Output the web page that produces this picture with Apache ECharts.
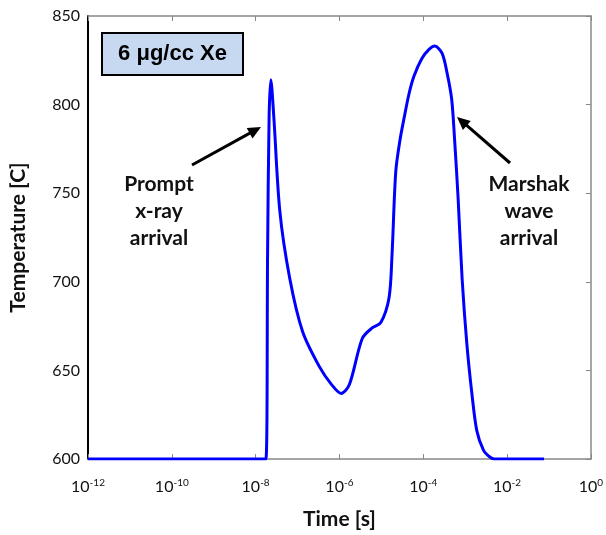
<!DOCTYPE html>
<html>
<head>
<meta charset="utf-8">
<script src="https://cdn.jsdelivr.net/npm/echarts@6/dist/echarts.min.js"></script>
<style>html,body{margin:0;padding:0;background:#fff}#c{width:606px;height:535px}</style>
</head>
<body>
<div id="c"></div>
<script>
// Data
const timeS = [1e-12, 1.76e-8, 1.93e-8, 2.10e-8, 2.31e-8, 2.72e-8, 3.78e-8, 6.52e-8, 1.32e-7, 3.35e-7, 6.5e-7, 1.10e-6, 1.73e-6, 3.51e-6, 6.05e-6, 9.75e-6, 1.53e-5, 1.80e-5, 2.21e-5, 2.79e-5, 3.47e-5, 4.57e-5, 6.0e-5, 9.29e-5, 1.36e-4, 1.89e-4, 2.81e-4, 3.70e-4, 4.78e-4, 5.62e-4, 6.81e-4, 8.47e-4, 1.10e-3, 1.45e-3, 1.90e-3, 2.74e-3, 3.95e-3, 5.0e-3, 7.66e-2];
const tempC = [600, 600, 715, 793, 814, 793, 740, 702, 672, 652, 642, 637, 642, 668, 674, 677, 691, 715, 762, 780, 792, 806, 816, 826, 831, 833, 829, 818, 803, 780, 747, 702, 665, 637, 616, 605, 601, 600, 600];
const yTicks = [600, 650, 700, 750, 800, 850];
const boxLabel = '6 \u03bcg/cc Xe';
const leftNote = 'Prompt\nx-ray\narrival';
const rightNote = 'Marshak\nwave\narrival';

const chart = echarts.init(document.getElementById('c'), null, {renderer: 'canvas'});

function arrow(x1, y1, x2, y2) {
  const dx = x2 - x1, dy = y2 - y1, L = Math.hypot(dx, dy);
  const ux = dx / L, uy = dy / L, px = -uy, py = ux;
  const hl = 13, hw = 6;
  const bx = x2 - hl * ux, by = y2 - hl * uy;
  return [
    {type: 'line', shape: {x1: x1, y1: y1, x2: x2 - 6 * ux, y2: y2 - 6 * uy}, style: {stroke: '#000', lineWidth: 3}},
    {type: 'polygon', shape: {points: [[x2, y2], [bx + hw * px, by + hw * py], [bx - hw * px, by - hw * py]]}, style: {fill: '#000'}}
  ];
}

const tickFont = 'Lato, "Open Sans", sans-serif';
const xLabelFmt = v => '10{s|' + Math.round(Math.log10(v)) + '}';

const option = {
  animation: false,
  backgroundColor: '#fff',
  grid: {left: 87, right: 13, top: 16, bottom: 73},
  xAxis: [{
    type: 'log', logBase: 10, min: 1e-12, max: 1, interval: 2,
    position: 'bottom',
    name: 'Time [s]', nameLocation: 'middle', nameGap: 50,
    nameTextStyle: {fontFamily: tickFont, fontWeight: 'bold', fontSize: 21, color: '#111'},
    axisLine: {lineStyle: {color: '#888', width: 1.5}},
    axisTick: {inside: true, length: 5, lineStyle: {color: '#888'}},
    minorTick: {show: false},
    splitLine: {show: false},
    axisLabel: {
      margin: 19, formatter: xLabelFmt,
      color: '#111', fontFamily: tickFont, fontSize: 16,
      rich: {s: {fontSize: 10, verticalAlign: 'top', padding: [0, 0, 8, 0], color: '#111', fontFamily: tickFont}}
    }
  }, {
    type: 'log', logBase: 10, min: 1e-12, max: 1, interval: 2,
    position: 'top',
    axisLine: {lineStyle: {color: '#888', width: 1.5}},
    axisTick: {inside: true, length: 5, lineStyle: {color: '#888'}},
    axisLabel: {show: false},
    splitLine: {show: false}
  }],
  yAxis: [{
    type: 'value', min: yTicks[0], max: yTicks[yTicks.length - 1], interval: 50,
    name: 'Temperature [C]', nameLocation: 'middle', nameGap: 59,
    nameTextStyle: {fontFamily: tickFont, fontWeight: 'bold', fontSize: 21, color: '#111'},
    axisLine: {show: true, lineStyle: {color: '#000', width: 2}},
    axisTick: {show: false},
    splitLine: {show: false},
    axisLabel: {margin: 8, color: '#111', fontFamily: tickFont, fontSize: 16}
  }, {
    type: 'value', min: yTicks[0], max: yTicks[yTicks.length - 1], interval: 50,
    position: 'right',
    axisLine: {show: true, lineStyle: {color: '#888', width: 1.5}},
    axisTick: {show: true, inside: true, length: 5, lineStyle: {color: '#888'}},
    axisLabel: {show: false},
    splitLine: {show: false}
  }],
  series: [{
    type: 'line',
    data: timeS.map((t, i) => [t, tempC[i]]),
    showSymbol: false,
    smooth: 0.3,
    lineStyle: {color: '#0000ff', width: 3},
    itemStyle: {color: '#0000ff'}
  }],
  graphic: [
    {type: 'rect', shape: {x: 102, y: 33, width: 141, height: 42}, style: {fill: '#c6d9f1', stroke: '#000', lineWidth: 2}},
    {type: 'text', x: 172.5, y: 54, style: {text: boxLabel, font: 'bold 22px "Liberation Sans", Arial, sans-serif', fill: '#000', align: 'center', verticalAlign: 'middle'}},
    {type: 'text', x: 159, y: 171, style: {text: leftNote, font: 'bold 21px Lato, sans-serif', lineHeight: 27, fill: '#111', align: 'center', verticalAlign: 'top'}},
    {type: 'text', x: 529, y: 171, style: {text: rightNote, font: 'bold 21px Lato, sans-serif', lineHeight: 27, fill: '#111', align: 'center', verticalAlign: 'top'}}
  ].concat(arrow(192, 165, 261, 127), arrow(510, 163, 457, 117))
};
chart.setOption(option);
</script>
</body>
</html>
